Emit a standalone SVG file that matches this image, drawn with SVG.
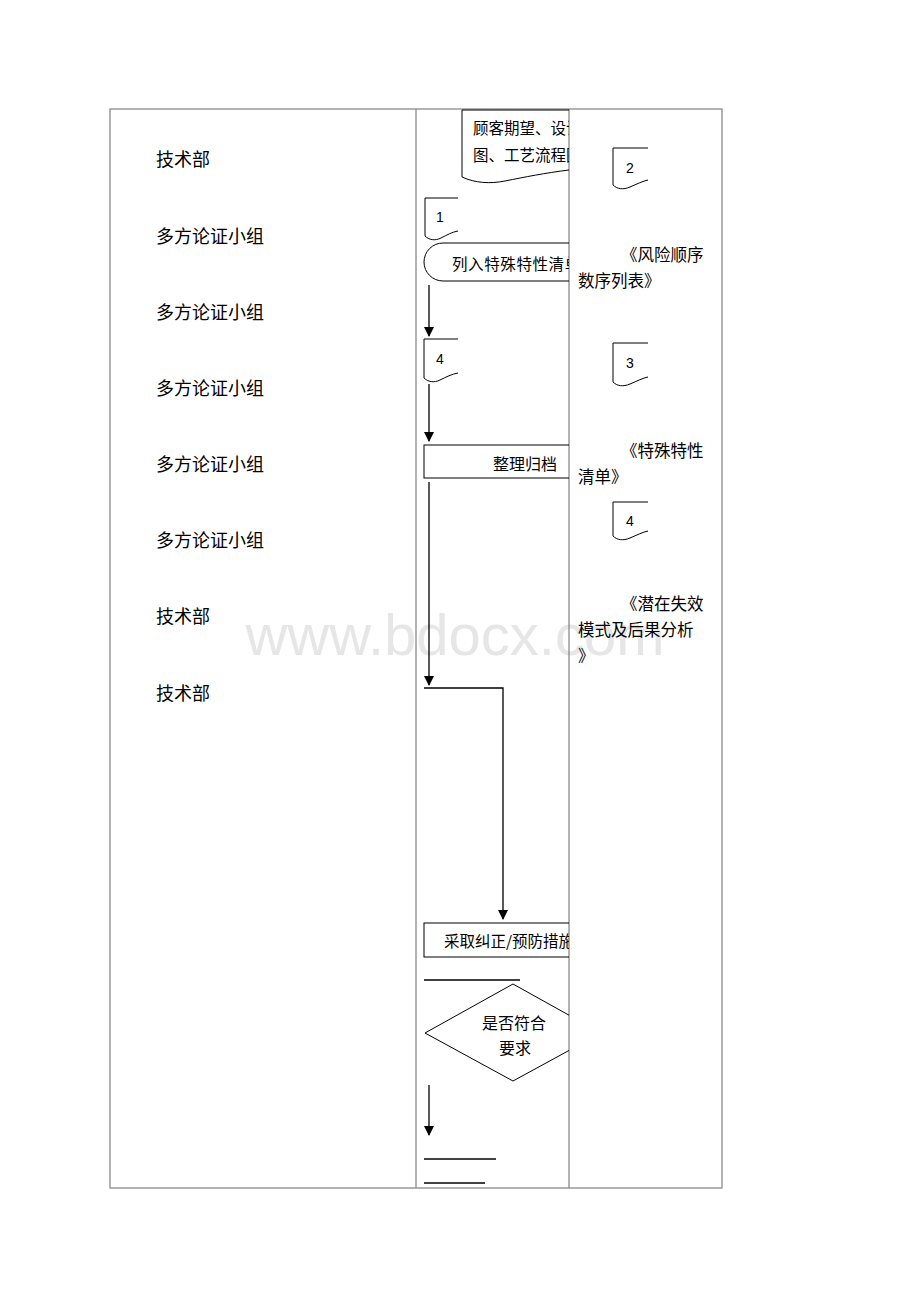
<svg xmlns="http://www.w3.org/2000/svg" width="920" height="1302" viewBox="0 0 920 1302">
<defs>
<style>
.grid{fill:none;stroke:#808080;stroke-width:1.2}
.shape{fill:none;stroke:#000;stroke-width:1}
.line{fill:none;stroke:#000;stroke-width:1.3}
.cjk{font-family:"Noto Sans CJK SC","Noto Sans",sans-serif;fill:#000}
.num{font-family:"Liberation Sans",Arial,sans-serif;font-size:14px;fill:#000}
.lbl{font-size:18px}
</style>
<marker id="arr" markerWidth="10" markerHeight="10" refX="9" refY="5" orient="auto" markerUnits="userSpaceOnUse">
<path d="M0,0 L10,5 L0,10 Z" fill="#000"/>
</marker>
<clipPath id="mid"><rect x="416" y="109" width="153" height="1079"/></clipPath>
</defs>
<text x="455" y="655" font-family="Liberation Sans,Arial,sans-serif" font-size="58" fill="#e6e6e6" text-anchor="middle">www.bdocx.com</text>
<g id="table">
<rect class="grid" x="110" y="109" width="612" height="1079"/>
<line class="grid" x1="416" y1="109" x2="416" y2="1188"/>
<line class="grid" x1="569" y1="109" x2="569" y2="1188"/>
</g>
<g id="left-labels" class="cjk lbl">
<text x="156" y="166">技术部</text>
<text x="156" y="243">多方论证小组</text>
<text x="156" y="319">多方论证小组</text>
<text x="156" y="395">多方论证小组</text>
<text x="156" y="471">多方论证小组</text>
<text x="156" y="547">多方论证小组</text>
<text x="156" y="623">技术部</text>
<text x="156" y="700">技术部</text>
</g>
<g clip-path="url(#mid)">
<g id="doc-input">
<path class="shape" d="M569,110 H462 V177 C475,183 490,184 505,181 C525,177 545,173 569,170"/>
<text class="cjk" x="473" y="134" font-size="15.5">顾客期望、设计</text>
<text class="cjk" x="473" y="161" font-size="15.5">图、工艺流程图</text>
</g>
<g id="doc1">
<path class="shape" d="M458,198 H425 V236 C429,240 435,241 441,238 C447,235 452,232 458,231"/>
<text class="num" x="436" y="222">1</text>
</g>
<g id="term">
<path class="shape" d="M575,243 H443 A19,19 0 0 0 443,281 H575"/>
<text class="cjk" x="452" y="270" font-size="15.5" letter-spacing="0.6">列入特殊特性清单</text>
</g>
<g id="doc4a">
<path class="shape" d="M458,339 H424 V378 C428,382 434,383 440,380 C446,377 452,374 458,373"/>
<text class="num" x="436" y="364">4</text>
</g>
<g id="box-archive">
<rect class="shape" x="424" y="445" width="160" height="33"/>
<text class="cjk" x="493" y="470" font-size="16">整理归档</text>
</g>
<g id="box-action">
<rect class="shape" x="424" y="923" width="160" height="34"/>
<text class="cjk" x="444" y="947" font-size="15.5">采取纠正/预防措施</text>
</g>
<g id="diamond">
<polygon class="shape" points="513,984 601,1033 513,1081 425,1033"/>
<text class="cjk" x="514" y="1029" font-size="16" text-anchor="middle">是否符合</text>
<text class="cjk" x="515" y="1054" font-size="16" text-anchor="middle">要求</text>
</g>
</g>
<g id="connectors">
<line class="line" x1="429" y1="285" x2="429" y2="336" marker-end="url(#arr)"/>
<line class="line" x1="429" y1="384" x2="429" y2="441" marker-end="url(#arr)"/>
<line class="line" x1="429" y1="482" x2="429" y2="685" marker-end="url(#arr)"/>
<polyline class="line" points="424,688 503,688 503,919" marker-end="url(#arr)"/>
<line class="line" x1="424" y1="980" x2="520" y2="980"/>
<line class="line" x1="429" y1="1085" x2="429" y2="1135" marker-end="url(#arr)"/>
<line class="line" x1="424" y1="1159" x2="496" y2="1159"/>
<line class="line" x1="424" y1="1183" x2="485" y2="1183"/>
</g>
<g id="doc2">
<path class="shape" d="M648,148 H613 V185 C617,189 623,190 630,187 C637,184 643,181 648,180"/>
<text class="num" x="626" y="173">2</text>
</g>
<g id="doc3">
<path class="shape" d="M648,343 H613 V382 C617,386 623,387 630,384 C637,381 643,378 648,377"/>
<text class="num" x="626" y="368">3</text>
</g>
<g id="doc4b">
<path class="shape" d="M648,502 H613 V536 C617,540 623,541 630,538 C637,535 643,532 648,531"/>
<text class="num" x="626" y="526">4</text>
</g>
<g id="right-labels" class="cjk" font-size="16.5">
<text x="621" y="261">《风险顺序</text>
<text x="578" y="287">数序列表》</text>
<text x="621" y="457">《特殊特性</text>
<text x="578" y="483">清单》</text>
<text x="621" y="610">《潜在失效</text>
<text x="578" y="636">模式及后果分析</text>
<text x="578" y="662">》</text>
</g>
</svg>
